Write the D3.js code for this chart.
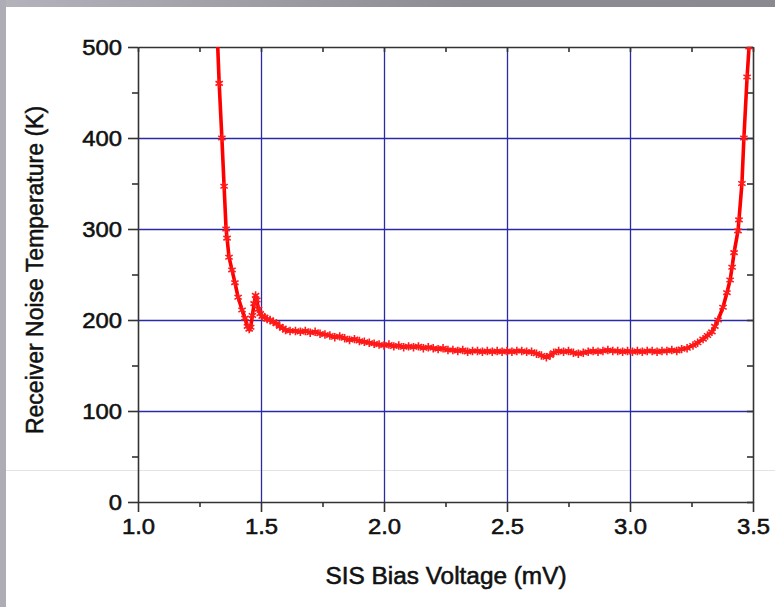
<!DOCTYPE html>
<html>
<head>
<meta charset="utf-8">
<script src="https://cdn.jsdelivr.net/npm/d3@7"></script>
<style>
  html, body { margin: 0; padding: 0; background: #fff; }
  svg { display: block; }
  text { font-family: "Liberation Sans", Arial, sans-serif; fill: #111; stroke: #111; stroke-width: 0.55px; }
</style>
</head>
<body>
<div id="chart"></div>
<script>
// bias voltage (mV) and receiver noise temperature (K)
const voltage = [
  1.322, 1.330, 1.341, 1.350, 1.358, 1.362, 1.370, 1.382, 1.394, 1.407,
  1.423, 1.435, 1.445, 1.452, 1.458, 1.465, 1.472, 1.478, 1.483, 1.490,
  1.497, 1.505, 1.515, 1.525, 1.537, 1.550, 1.563, 1.576, 1.589, 1.600,
  1.618, 1.640, 1.660, 1.680, 1.700, 1.720, 1.740, 1.760, 1.780, 1.800,
  1.820, 1.840, 1.860, 1.880, 1.900, 1.920, 1.940, 1.960, 1.980, 2.000,
  2.020, 2.040, 2.060, 2.080, 2.100, 2.120, 2.140, 2.160, 2.180, 2.200,
  2.220, 2.240, 2.260, 2.280, 2.300, 2.320, 2.340, 2.360, 2.380, 2.400,
  2.420, 2.440, 2.460, 2.480, 2.500, 2.520, 2.540, 2.560, 2.580, 2.600,
  2.620, 2.640, 2.660, 2.675, 2.690, 2.710, 2.730, 2.750, 2.770, 2.790,
  2.810, 2.830, 2.850, 2.870, 2.890, 2.910, 2.930, 2.950, 2.970, 2.990,
  3.010, 3.030, 3.050, 3.070, 3.090, 3.110, 3.130, 3.150, 3.170, 3.190,
  3.210, 3.232, 3.256, 3.275, 3.297, 3.315, 3.333, 3.345, 3.358, 3.378,
  3.394, 3.407, 3.415, 3.423, 3.439, 3.443, 3.455, 3.463, 3.476, 3.484,
  3.490
];
const noiseTemp = [
  515, 460, 400, 347, 300, 290, 269, 255, 241, 225,
  211, 202, 193, 190, 192, 205, 218, 227, 222, 212,
  207, 204, 203, 201, 200, 198, 196, 193, 191, 189,
  188, 188, 187, 188, 186, 187, 185, 184, 183, 181,
  182, 180, 178, 179, 177, 176, 175, 174, 173, 172,
  173, 171, 172, 170, 171, 170, 171, 169, 170, 169,
  168, 169, 167, 167, 166, 167, 165, 166, 166, 165,
  166, 165, 166, 165, 166, 165, 166, 166, 165, 165,
  163, 161, 159, 161, 164, 166, 165, 166, 164, 163,
  164, 165, 166, 165, 166, 167, 166, 166, 165, 166,
  165, 166, 165, 166, 166, 165, 166, 166, 167, 166,
  168, 169, 172, 175, 179, 183, 187, 193, 200, 214,
  230, 244, 258, 274, 298, 310, 350, 400, 467, 500,
  530
];
const xTicks = [1.0, 1.5, 2.0, 2.5, 3.0, 3.5];
const xMinor = [1.25, 1.75, 2.25, 2.75, 3.25];
const yTicks = [0, 100, 200, 300, 400, 500];
const yMinor = [50, 150, 250, 350, 450];

const W = 775, H = 607;
const m = { left: 138, right: 22, top: 47, bottom: 105 };
const stretch = "scale(1.06,1)"; // the source image is a little wider than tall

const svg = d3.select("#chart").append("svg")
  .attr("width", W)
  .attr("height", H);

// grey frame of the original slide
const grad = svg.append("defs").append("linearGradient")
  .attr("id", "topband").attr("x1", "0").attr("x2", "1");
grad.append("stop").attr("offset", "0").attr("stop-color", "#b4b3bb");
grad.append("stop").attr("offset", "0.6").attr("stop-color", "#8d8c93");
grad.append("stop").attr("offset", "1").attr("stop-color", "#8a8990");
svg.append("rect").attr("x", 0).attr("y", 0).attr("width", W).attr("height", 7)
  .attr("fill", "url(#topband)");
svg.append("rect").attr("x", 0).attr("y", 0).attr("width", 6).attr("height", H)
  .attr("fill", "#aeadb5");
svg.append("line").attr("x1", 6).attr("x2", W).attr("y1", 470.5).attr("y2", 470.5)
  .attr("stroke", "#e4e4e4").attr("stroke-width", 1);

const x = d3.scaleLinear().domain([1.0, 3.5]).range([m.left, W - m.right]);
const y = d3.scaleLinear().domain([0, 500]).range([H - m.bottom, m.top]);

const x0 = x.range()[0], x1 = x.range()[1];
const y0 = y.range()[0], y1 = y.range()[1];

// grid
svg.append("g").selectAll("line")
  .data(xTicks.slice(1, -1))
  .join("line")
  .attr("x1", d => Math.round(x(d)) + 0.5).attr("x2", d => Math.round(x(d)) + 0.5)
  .attr("y1", y1).attr("y2", y0)
  .attr("stroke", "#2a2aa6").attr("stroke-width", 1.3);
svg.append("g").selectAll("line")
  .data(yTicks.slice(1, -1))
  .join("line")
  .attr("y1", d => Math.round(y(d)) + 0.5).attr("y2", d => Math.round(y(d)) + 0.5)
  .attr("x1", x0).attr("x2", x1)
  .attr("stroke", "#2a2aa6").attr("stroke-width", 1.3);

// axes
const axisStyle = g => {
  g.select(".domain").attr("stroke", "#333").attr("stroke-width", 1.6);
  g.selectAll(".tick line").attr("stroke", "#333").attr("stroke-width", 1.6);
  g.selectAll(".tick text")
    .style("font-size", "22.5px")
    .style("font-family", "'Liberation Sans', Arial, sans-serif")
    .attr("fill", "#111")
    .attr("transform", stretch);
};

svg.append("g")
  .attr("transform", `translate(0,${y0})`)
  .call(d3.axisBottom(x).tickValues(xTicks).tickFormat(d3.format(".1f"))
    .tickSize(10).tickSizeOuter(0).tickPadding(6))
  .call(axisStyle);
svg.append("g")
  .attr("transform", `translate(0,${y0})`)
  .call(d3.axisBottom(x).tickValues(xMinor).tickFormat("").tickSize(5).tickSizeOuter(0))
  .call(axisStyle).select(".domain").remove();

svg.append("g")
  .attr("transform", `translate(${x0},0)`)
  .call(d3.axisLeft(y).tickValues(yTicks).tickSize(10).tickSizeOuter(0).tickPadding(5))
  .call(axisStyle);
svg.append("g")
  .attr("transform", `translate(${x0},0)`)
  .call(d3.axisLeft(y).tickValues(yMinor).tickFormat("").tickSize(6).tickSizeOuter(0))
  .call(axisStyle).select(".domain").remove();

// top and right: ticks pointing inward
svg.append("g")
  .attr("transform", `translate(0,${y1})`)
  .call(d3.axisBottom(x).tickValues(xMinor.concat(xTicks)).tickFormat("").tickSize(5).tickSizeOuter(0))
  .call(axisStyle);
svg.append("g")
  .attr("transform", `translate(${x1},0)`)
  .call(d3.axisLeft(y).tickValues(yMinor.concat(yTicks)).tickFormat("").tickSize(6).tickSizeOuter(0))
  .call(axisStyle);

// data
const pts = voltage.map((v, i) => [v, noiseTemp[i]]);

svg.append("clipPath").attr("id", "plotclip")
  .append("rect").attr("x", x0).attr("y", y1)
  .attr("width", x1 - x0).attr("height", y0 - y1);

const plot = svg.append("g").attr("clip-path", "url(#plotclip)");

plot.append("path")
  .datum(pts)
  .attr("fill", "none")
  .attr("stroke", "#ff0000")
  .attr("stroke-width", 3.6)
  .attr("stroke-linejoin", "round")
  .attr("d", d3.line().x(d => x(d[0])).y(d => y(d[1])));

const marker = d3.symbol().type(d3.symbolAsterisk).size(50);
plot.append("g").selectAll("path")
  .data(pts)
  .join("path")
  .attr("transform", d => `translate(${x(d[0])},${y(d[1])})`)
  .attr("d", marker)
  .attr("fill", "none")
  .attr("stroke", "#ff1a1a")
  .attr("stroke-width", 1.6);

// titles
svg.append("text")
  .attr("transform", `translate(446,584) ${stretch}`)
  .attr("text-anchor", "middle")
  .style("font-size", "23px")
  .text("SIS Bias Voltage (mV)");

svg.append("text")
  .attr("transform", "rotate(-90)")
  .attr("x", -270)
  .attr("y", 43)
  .attr("text-anchor", "middle")
  .style("font-size", "23px")
  .text("Receiver Noise Temperature (K)");
</script>
</body>
</html>
